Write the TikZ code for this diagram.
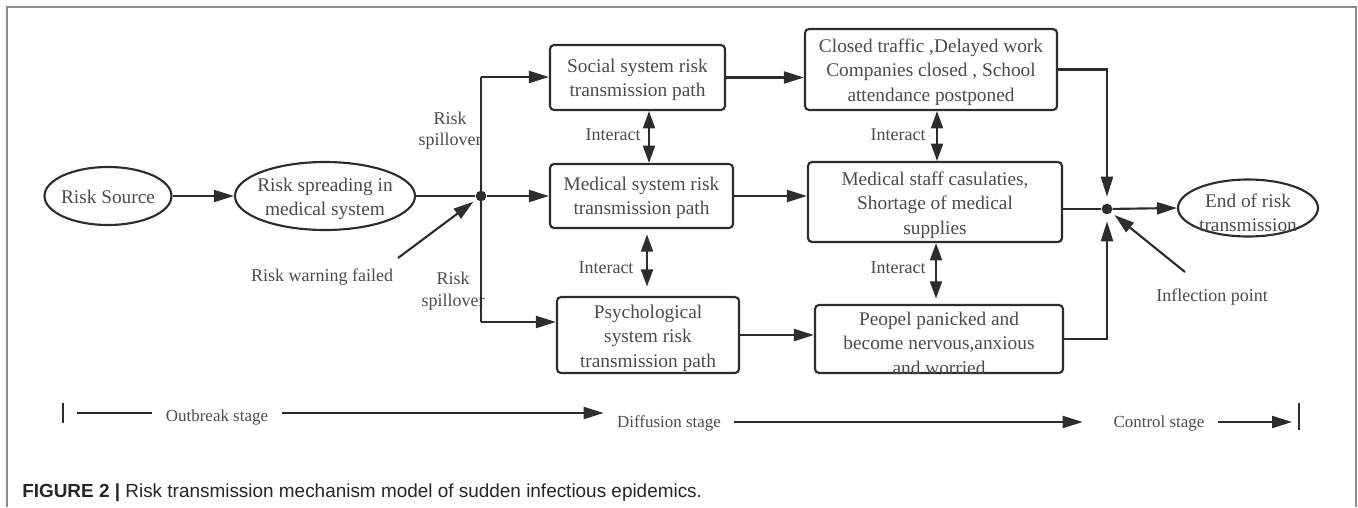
\documentclass[tikz,border=0pt]{standalone}
\usepackage{fontspec}
\setmainfont{Liberation Serif}
\newfontfamily\capfont{Liberation Sans}
\usetikzlibrary{arrows.meta,shapes.geometric,calc}
\definecolor{lncol}{RGB}{45,45,45}
\definecolor{txcol}{RGB}{75,75,75}
\definecolor{frcol}{RGB}{140,140,140}
\begin{document}
\begin{tikzpicture}[x=0.75pt,y=-0.75pt,
  plain/.style={draw=lncol, line width=1.6pt},
  arr/.style={plain, -{Triangle[length=15pt,width=9pt]}},
  biarr/.style={plain, {Triangle[length=13pt,width=9pt]}-{Triangle[length=13pt,width=9pt]}},
  ell/.style={draw=lncol, line width=1.6pt, ellipse, inner sep=0pt},
  box/.style={draw=lncol, line width=1.6pt, rounded corners=3pt, inner sep=0pt},
  btxt/.style={text=txcol, align=center, font=\fontsize{14.5}{18.3}\selectfont, inner sep=0pt},
  ltxt/.style={text=txcol, align=center, font=\fontsize{13.5}{16}\selectfont, inner sep=0pt},
  stxt/.style={text=txcol, font=\fontsize{12.7}{15}\selectfont, inner xsep=10pt, inner ysep=0pt},
  dot/.style={circle, fill=lncol, inner sep=0pt, minimum size=8pt}]
\useasboundingbox (0,0) rectangle (1358,507);
% frame
\draw[draw=frcol, line width=1.5pt] (7,507) -- (7,7) -- (1356,7) -- (1356,507);
% ellipses
\node[ell, minimum width=95.25pt, minimum height=43.5pt] (rs) at (108,196) {};
\node[btxt] (rst) at (108,197) {Risk Source};
\node[ell, minimum width=135pt, minimum height=51pt] (rsp) at (325,196) {};
\node[btxt] (rspt) at (325,199) {Risk spreading in\\medical system};
\node[ell, minimum width=105pt, minimum height=42.75pt] (end) at (1248,208) {};
\node[btxt] (endt) at (1248,213) {End of risk\\transmission};
% boxes
\node[box, minimum width=131.25pt, minimum height=48.75pt] (soc) at (637.5,77.5) {};
\node[btxt] (soct) at (637.5,80) {Social system risk\\transmission path};
\node[box, minimum width=137.25pt, minimum height=48pt] (med) at (641.5,196) {};
\node[btxt] (medt) at (641.5,198) {Medical system risk\\transmission path};
\node[box, minimum width=136.5pt, minimum height=57pt] (psy) at (648,335) {};
\node[btxt] (psyt) at (648,338) {Psychological\\system risk\\transmission path};
\node[box, minimum width=189pt, minimum height=60.75pt] (clo) at (931,69.5) {};
\node[btxt] (clot) at (931,72) {Closed traffic ,Delayed work\\Companies closed , School\\attendance postponed};
\node[box, minimum width=190.5pt, minimum height=60pt] (mst) at (935,202) {};
\node[btxt] (mstt) at (935,205) {Medical staff casulaties,\\Shortage of medical\\supplies};
\node[box, minimum width=186pt, minimum height=51pt] (peo) at (939,339) {};
\node[btxt] (peot) at (939,343) {Peopel panicked and\\become nervous,anxious\\and worried};
% junctions
\node[dot] (j) at (481,196) {};
\node[dot] (j2) at (1107,209) {};
\coordinate (jt) at (481,77);
\coordinate (jb) at (481,322);
\coordinate (rw0) at (398,258);
\coordinate (ip0) at (1185,272);
\coordinate (x1) at (649,0);
\coordinate (x2) at (647,0);
\coordinate (x3) at (937,0);
\coordinate (x4) at (936,0);
% labels
\node[ltxt] (sp1) at (450,131) {Risk\\spillover};
\node[ltxt] (sp2) at (453,291) {Risk\\spillover};
\node[ltxt] (rw) at (322,277) {Risk warning failed};
\node[ltxt] (ip) at (1212,297) {Inflection point};
\node[ltxt] (ia1) at (613,135) {Interact};
\node[ltxt] (ia2) at (606,268) {Interact};
\node[ltxt] (ia3) at (898,135) {Interact};
\node[ltxt] (ia4) at (898,268) {Interact};
% left connectors
\draw[arr] (rs.east) -- (rsp.west);
\draw[plain] (rsp.east) -- (j);
\draw[plain] (jt) -- (jb);
\draw[arr] (jt) -- (jt -| soc.west);
\draw[arr] (j) -- (med.west);
\draw[arr] (jb) -- (jb -| psy.west);
\draw[arr, shorten >=3pt] (rw0) -- (j);
% middle connectors
\draw[arr] (soc.east) -- (clo.west |- soc.east);
\draw[arr] (med.east) -- (mst.west |- med.east);
\draw[arr] (psy.east) -- (peo.west |- psy.east);
\draw[biarr] (soc.south -| x1) -- (med.north -| x1);
\draw[biarr, shorten <=4pt, shorten >=7pt] (med.south -| x2) -- (psy.north -| x2);
\draw[biarr] (clo.south -| x3) -- (mst.north -| x3);
\draw[biarr, shorten >=4pt] (mst.south -| x4) -- (peo.north -| x4);
% right connectors
\draw[arr, shorten >=5pt] (clo.east) -| (j2);
\draw[plain] (mst.east |- j2) -- (j2);
\draw[arr, shorten >=5pt] (peo.east) -| (j2);
\draw[arr] (j2) -- (end.west);
\draw[arr, shorten >=3pt] (ip0) -- (j2);
% stages
\node[stxt] (ob) at (217,417) {Outbreak stage};
\node[stxt] (df) at (669,423) {Diffusion stage};
\node[stxt] (ct) at (1159,423) {Control stage};
\coordinate (tl1) at (63,403);
\coordinate (tl2) at (63,423);
\coordinate (s0) at (77,413);
\coordinate (s1) at (0,422);
\coordinate (tr) at (1292,422);
\coordinate (tr1) at (1299,403);
\coordinate (tr2) at (1299,430);
\draw[plain] (tl1) -- (tl2);
\draw[plain] (s0) -- (ob.west |- s0);
\draw[arr] (ob.east |- s0) -- (df.west |- s0);
\draw[arr, shorten >=13pt] (df.east |- s1) -- (ct.west |- s1);
\draw[arr] (ct.east |- s1) -- (tr);
\draw[plain] (tr1) -- (tr2);
% caption
\node[anchor=base west, inner sep=0pt, text=black!85, font=\capfont\fontsize{14.2}{16}\selectfont] (cap) at (22,497) {\textbf{FIGURE 2 |} Risk transmission mechanism model of sudden infectious epidemics.};
\end{tikzpicture}
\end{document}
